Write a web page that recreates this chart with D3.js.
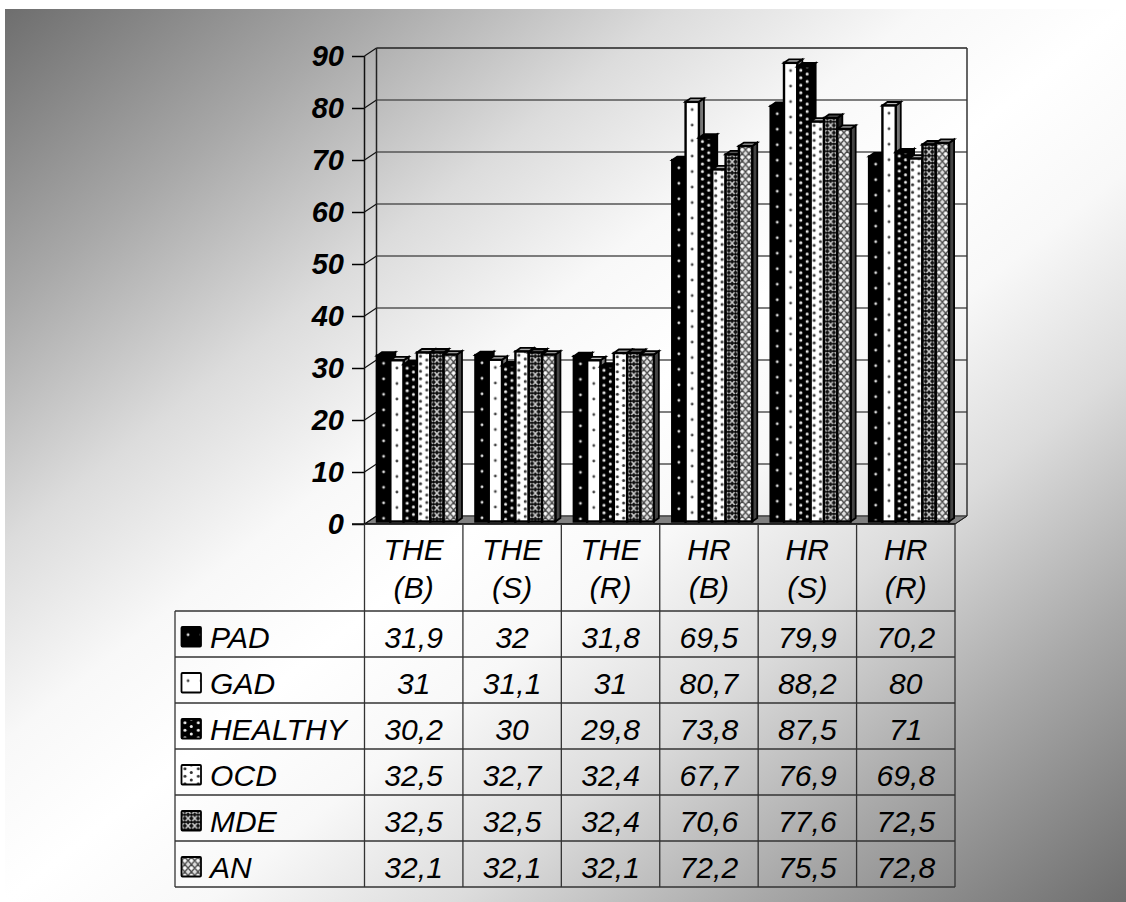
<!DOCTYPE html>
<html>
<head>
<meta charset="utf-8">
<script src="https://cdn.jsdelivr.net/npm/d3@7"></script>
<style>
  html, body { margin: 0; padding: 0; background: #fff; }
  svg { display: block; }
  text { font-family: "Liberation Sans", Arial, sans-serif; font-style: italic; fill: #000; }
  .table text { font-size: 30px; letter-spacing: 0.1px; }
</style>
</head>
<body>
<svg id="chart" width="1126" height="902"></svg>
<script>
/******** Data ********/
var categories = ["THE (B)", "THE (S)", "THE (R)", "HR (B)", "HR (S)", "HR (R)"];
var seriesNames = ["PAD", "GAD", "HEALTHY", "OCD", "MDE", "AN"];
var PAD = [31.9, 32, 31.8, 69.5, 79.9, 70.2];
var GAD = [31, 31.1, 31, 80.7, 88.2, 80];
var HEALTHY = [30.2, 30, 29.8, 73.8, 87.5, 71];
var OCD = [32.5, 32.7, 32.4, 67.7, 76.9, 69.8];
var MDE = [32.5, 32.5, 32.4, 70.6, 77.6, 72.5];
var AN = [32.1, 32.1, 32.1, 72.2, 75.5, 72.8];
var seriesValues = [PAD, GAD, HEALTHY, OCD, MDE, AN];
var yTicks = [0, 10, 20, 30, 40, 50, 60, 70, 80, 90];

/******** Layout ********/
var chartWidth = 1126, chartHeight = 902;
var plotLeft = 364.5, plotRight = 955;
var y0 = 524, y90 = 56;
var wallDx = 12, wallDy = -8;     // depth of the box
var barDx = 5, barDy = -3.5;      // depth of one bar
var barLift = 2.5;                // bars stand a little behind the front edge of the floor
var tableTop = 611, tableLeft = 175, rowH = 46;

var svg = d3.select("#chart");
var defs = svg.append("defs");

// page background, dark corners and white across the middle
var bg = defs.append("linearGradient").attr("id", "bg")
  .attr("x1", 0).attr("y1", 0).attr("x2", 1).attr("y2", 1);
[[0, "#6e6e6e"], [16.5, "#a8a8a8"], [30, "#dcdcdc"], [41, "#f8f8f8"], [50, "#ffffff"],
 [59, "#f8f8f8"], [70, "#dcdcdc"], [83.5, "#a8a8a8"], [100, "#6e6e6e"]].forEach(function (s) {
  bg.append("stop").attr("offset", s[0] + "%").attr("stop-color", s[1]);
});
svg.append("rect").attr("x", 5).attr("y", 9)
  .attr("width", chartWidth - 5).attr("height", chartHeight - 9)
  .attr("fill", "url(#bg)");

/******** Patterns ********/
function makePattern(id, w, h, base, draw) {
  var p = defs.append("pattern").attr("id", id)
    .attr("patternUnits", "userSpaceOnUse")
    .attr("width", w).attr("height", h);
  p.append("rect").attr("width", w).attr("height", h).attr("fill", base);
  draw(p);
}
function dots(p, color, r, pts) {
  pts.forEach(d => p.append("circle").attr("cx", d[0]).attr("cy", d[1]).attr("r", r).attr("fill", color));
}
makePattern("p-PAD", 13.3, 15.5, "#000", p => dots(p, "#ddd", 1.4, [[6.6, 7.7]]));
makePattern("p-GAD", 13.3, 15.5, "#fff", p => dots(p, "#444", 1.4, [[6.6, 7.7]]));
makePattern("p-HEALTHY", 13.3, 15, "#000", p => dots(p, "#eee", 1.5, [[3.5, 3.7], [9.8, 7.5], [3.5, 11.2], [9.8, 15], [9.8, 0]]));
makePattern("p-OCD", 13.3, 15, "#fff", p => dots(p, "#333", 1.5, [[3.5, 3.7], [9.8, 7.5], [3.5, 11.2], [9.8, 15], [9.8, 0]]));
makePattern("p-MDE", 6.6, 7.4, "#111", p => {
  p.append("path").attr("d", "M0,0L6.6,7.4M6.6,0L0,7.4").attr("stroke", "#ccc").attr("stroke-width", 1.5);
  dots(p, "#000", 1.4, [[3.3, 3.7]]);
});
makePattern("p-AN", 6.6, 7.4, "#ddd", p => {
  p.append("path").attr("d", "M3.3,0L6.6,3.7L3.3,7.4L0,3.7Z").attr("fill", "none").attr("stroke", "#444").attr("stroke-width", 1.2);
  dots(p, "#fff", 1.3, [[3.3, 3.7]]);
});

var sideColor = {PAD: "#000", GAD: "#777", HEALTHY: "#000", OCD: "#555", MDE: "#222", AN: "#444"};
var topColor = {PAD: "#000", GAD: "#bbb", HEALTHY: "#000", OCD: "#aaa", MDE: "#555", AN: "#999"};

/******** Scales ********/
var x = d3.scaleBand().domain(categories).range([plotLeft, plotRight]);
var y = d3.scaleLinear().domain([0, 90]).range([y0, y90]);
// bars sit in the middle of the depth, so the band is shifted a bit to the right
var xBar = d3.scaleBand().domain(seriesNames).range([12.5, 92.5]);
var rowY = d3.scaleBand().domain(seriesNames).range([tableTop, tableTop + rowH * seriesNames.length]);

/******** Box: floor, walls, grid ********/
var box = svg.append("g");
box.append("path")
  .attr("d", "M" + plotLeft + "," + y0 + "L" + (plotLeft + wallDx) + "," + (y0 + wallDy) +
    "L" + (plotRight + wallDx) + "," + (y0 + wallDy) + "L" + plotRight + "," + y0 + "Z")
  .attr("fill", "#808080").attr("stroke", "#222").attr("stroke-width", 1);

box.selectAll(".grid").data(yTicks).enter().append("line")
  .attr("class", "grid")
  .attr("x1", plotLeft + wallDx).attr("x2", plotRight + wallDx)
  .attr("y1", d => y(d) + wallDy).attr("y2", d => y(d) + wallDy)
  .attr("stroke", d => d == 90 ? "#222" : "#555").attr("stroke-width", 1.5);
box.selectAll(".diag").data(yTicks).enter().append("line")
  .attr("class", "diag")
  .attr("x1", plotLeft).attr("x2", plotLeft + wallDx)
  .attr("y1", d => y(d)).attr("y2", d => y(d) + wallDy)
  .attr("stroke", "#111").attr("stroke-width", 1.2);
box.append("line").attr("x1", plotLeft + wallDx).attr("x2", plotLeft + wallDx)
  .attr("y1", y(90) + wallDy).attr("y2", y(0) + wallDy).attr("stroke", "#222").attr("stroke-width", 1.5);
box.append("line").attr("x1", plotRight + wallDx).attr("x2", plotRight + wallDx)
  .attr("y1", y(90) + wallDy).attr("y2", y(0) + wallDy).attr("stroke", "#333").attr("stroke-width", 1.5);
box.append("line").attr("x1", plotRight).attr("x2", plotRight + wallDx)
  .attr("y1", y(0)).attr("y2", y(0) + wallDy).attr("stroke", "#222").attr("stroke-width", 1);

/******** Bars ********/
function drawBar(g, name, value) {
  var h = y(0) - y(value), w = xBar.bandwidth();
  // side
  g.append("path")
    .attr("d", "M" + w + ",0L" + (w + barDx) + "," + barDy + "L" + (w + barDx) + "," + (barDy - h) + "L" + w + "," + (-h) + "Z")
    .attr("fill", sideColor[name]).attr("stroke", "#000").attr("stroke-width", 1.8);
  // top
  g.append("path")
    .attr("d", "M0," + (-h) + "L" + barDx + "," + (barDy - h) + "L" + (w + barDx) + "," + (barDy - h) + "L" + w + "," + (-h) + "Z")
    .attr("fill", topColor[name]).attr("stroke", "#000").attr("stroke-width", 1.8);
  // front, the pattern is anchored on the top left corner of the bar
  g.append("g").attr("transform", "translate(0," + (-h) + ")")
    .append("rect").attr("width", w).attr("height", h)
    .attr("fill", "url(#p-" + name + ")")
    .attr("stroke", "#000").attr("stroke-width", 2.4);
}

categories.forEach(function (cat, c) {
  seriesNames.forEach(function (name, s) {
    var g = svg.append("g")
      .attr("transform", "translate(" + (x(cat) + xBar(name)) + "," + (y(0) - barLift) + ")");
    drawBar(g, name, seriesValues[s][c]);
  });
});

/******** Y axis ********/
var yAxis = d3.axisLeft(y).tickValues(yTicks).tickSize(12.5).tickPadding(8).tickFormat(d3.format("d"));
var yAxisGroup = svg.append("g")
  .attr("transform", "translate(" + plotLeft + ",0)")
  .call(yAxis);
yAxisGroup.select(".domain").remove();
yAxisGroup.selectAll("line").attr("stroke", "#000").attr("stroke-width", 1.5);
yAxisGroup.selectAll("text")
  .style("font-family", '"Liberation Sans", Arial, sans-serif')
  .style("font-size", "29px").style("font-weight", "bold").style("font-style", "italic");
// the front edge of the box runs on through the table
svg.append("line").attr("x1", plotLeft).attr("x2", plotLeft)
  .attr("y1", y(90)).attr("y2", y(0)).attr("stroke", "#111").attr("stroke-width", 1.5);
svg.append("line").attr("x1", plotLeft - 12.5).attr("x2", plotRight)
  .attr("y1", y(0)).attr("y2", y(0)).attr("stroke", "#111").attr("stroke-width", 1.5);

/******** Data table ********/
var table = svg.append("g").attr("class", "table");
var tableBottom = tableTop + rowH * seriesNames.length;
var lineColor = "#333";

// horizontal rules
d3.range(seriesNames.length + 1).forEach(function (i) {
  table.append("line")
    .attr("x1", tableLeft).attr("x2", plotRight)
    .attr("y1", tableTop + rowH * i).attr("y2", tableTop + rowH * i)
    .attr("stroke", lineColor).attr("stroke-width", 1.3);
});
// vertical rules
x.domain().concat(["end"]).forEach(function (cat) {
  var px = cat == "end" ? plotRight : x(cat);
  table.append("line").attr("x1", px).attr("x2", px)
    .attr("y1", y0).attr("y2", tableBottom)
    .attr("stroke", lineColor).attr("stroke-width", 1.3);
});
table.append("line").attr("x1", tableLeft).attr("x2", tableLeft)
  .attr("y1", tableTop).attr("y2", tableBottom)
  .attr("stroke", lineColor).attr("stroke-width", 1.3);

// column heads, two lines each
categories.forEach(function (cat) {
  var parts = cat.split(" ");
  var t = table.append("text").attr("text-anchor", "middle");
  parts.forEach(function (part, i) {
    t.append("tspan").attr("x", x(cat) + x.bandwidth() / 2)
      .attr("y", 560 + i * 38).text(part);
  });
});

// legend keys and row names
seriesNames.forEach(function (name) {
  var cy = rowY(name) + rowY.bandwidth() / 2;
  table.append("g").attr("transform", "translate(181.5," + (cy - 7) + ")")
    .append("rect").attr("width", 19.5).attr("height", 19.5).attr("rx", 1)
    .attr("fill", "url(#p-" + name + ")")
    .attr("stroke", "#000").attr("stroke-width", 1.8);
  table.append("text").attr("x", 210).attr("y", cy + 13.5).text(name);
});

// values
seriesNames.forEach(function (name, s) {
  categories.forEach(function (cat, c) {
    table.append("text")
      .attr("x", x(cat) + x.bandwidth() / 2)
      .attr("y", rowY(name) + rowY.bandwidth() / 2 + 13.5)
      .attr("text-anchor", "middle")
      .text(String(seriesValues[s][c]).replace(".", ","));
  });
});
</script>
</body>
</html>
